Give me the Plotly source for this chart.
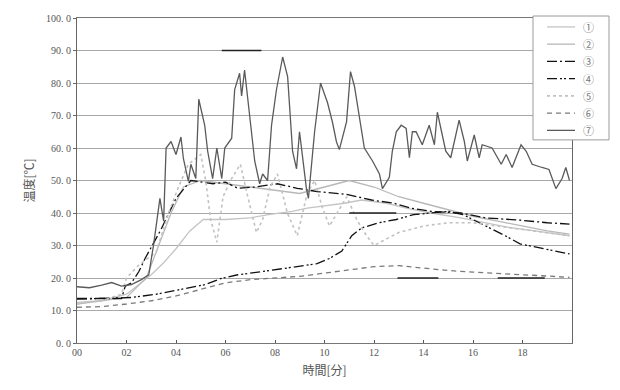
import plotly.graph_objects as go

# ---------------- data ----------------
x_ticks = [0, 2, 4, 6, 8, 10, 12, 14, 16, 18]
x_tick_labels = ["00", "02", "04", "06", "08", "10", "12", "14", "16", "18"]
y_ticks = [0, 10, 20, 30, 40, 50, 60, 70, 80, 90, 100]
y_tick_labels = ["0. 0", "10. 0", "20. 0", "30. 0", "40. 0", "50. 0", "60. 0", "70. 0", "80. 0", "90. 0", "100. 0"]
series_names = ["①", "②", "③", "④", "⑤", "⑥", "⑦"]

t1 = [0, 1, 2, 2.5, 3, 3.5, 4, 4.55, 5.1, 6, 7, 7.8, 8.7, 9.3, 10.8, 11.5, 12.5, 13.3, 14.3, 15.5, 16.5, 17.5, 18.5, 19.9]
v1 = [12.5, 13, 15, 18, 21, 24.7, 29, 34.4, 38, 38, 38.5, 39.6, 40.5, 41.5, 43, 44, 43, 41.5, 40, 38.5, 37, 35.5, 34.5, 33]

t2 = [0, 2, 2.8, 3.3, 3.8, 4.3, 5, 6, 7, 8, 9, 10, 11, 12, 13, 14, 15, 16, 17, 18, 19, 19.9]
v2 = [12, 14, 20, 30, 40, 48, 50, 49, 48, 47, 46, 48, 50, 48, 45, 43, 41, 39, 37.5, 36, 34.5, 33.5]

t3 = [0, 1.8, 1.95, 2.2, 2.5, 2.75, 3.4, 4.0, 4.6, 5.5, 6.0, 6.5, 7.2, 8.1, 8.9, 9.7, 10.9, 11.9, 12.8, 13.5, 14.3, 15.5, 16.5, 17.9, 19.0, 19.9]
v3 = [13.7, 13.7, 17.5, 18.5, 22, 26, 35, 44.5, 50, 49, 49.5, 47.6, 48, 49, 47.6, 46.6, 45.7, 44, 43, 41.5, 40.5, 40, 38.5, 37.8, 37, 36.6]

t4 = [0, 1, 2.2, 3.2, 4.2, 5.2, 5.8, 6.5, 7.5, 8.5, 9.7, 10.2, 10.7, 11.1, 11.5, 12.2, 12.9, 13.6, 14.3, 15.0, 15.6, 16.0, 16.9, 17.3, 17.9, 18.9, 19.9]
v4 = [13.5, 13.8, 14, 15, 16.5, 18, 19.8, 21, 22, 23, 24.4, 26, 28.3, 33, 35.4, 37, 38, 39.5, 40, 40.5, 39.5, 38, 34.5, 33, 30.5, 29, 27.4]

t5 = [0, 1, 1.8, 2.0, 2.5, 3.2, 3.7, 4.1, 4.5, 5.0, 5.2, 5.4, 5.65, 5.9, 6.2, 6.6, 6.9, 7.25, 7.5, 7.8, 8.1, 8.5, 8.9, 9.3, 9.6, 9.9, 10.2, 10.5, 10.9, 11.3, 11.7, 12.0, 12.5, 13, 14, 15, 16, 17, 18, 19, 19.9]
v5 = [12, 13, 15, 20, 24, 28, 40, 48, 55, 58, 50, 38, 31, 45, 50, 55, 45, 34, 38, 48, 52, 40, 33, 46, 50, 42, 36, 40, 45, 38, 33, 30, 32, 34, 36, 37, 37, 36, 35, 34, 33]

t6 = [0, 1, 2, 3, 4, 5, 6, 7, 8, 9, 10, 11, 12, 13, 14, 15, 16, 17, 18, 19, 19.9]
v6 = [11, 11.2, 12, 13, 14.5, 16.5, 18.5, 19.5, 20, 20.5, 21.5, 22.5, 23.5, 23.8, 23, 22.3, 21.8, 21.3, 21, 20.6, 20.2]

t7 = [0, 0.5, 1.0, 1.4, 1.8, 2.2, 2.6, 2.9, 3.1, 3.35, 3.5, 3.6, 3.8, 4.0, 4.2, 4.3, 4.5, 4.6, 4.8, 4.92,
      5.16, 5.28, 5.48, 5.65, 5.85, 5.97, 6.25, 6.37, 6.57, 6.65, 6.77, 6.98, 7.18, 7.38, 7.5, 7.7, 7.86,
      8.06, 8.31, 8.51, 8.71, 8.87, 8.99, 9.27, 9.35, 9.6, 9.84, 10.12, 10.32, 10.48, 10.6, 10.89, 11.05,
      11.21, 11.41, 11.61, 11.94, 12.22, 12.34, 12.62, 12.74, 12.9, 13.1, 13.3, 13.43, 13.55, 13.7, 13.95,
      14.23, 14.44, 14.56, 14.7, 14.9, 15.1, 15.44, 15.65, 15.77, 16.05, 16.25, 16.37, 16.77, 17.14, 17.34,
      17.58, 17.94, 18.15, 18.39, 18.79, 19.07, 19.35, 19.6, 19.75, 19.9]
v7 = [17.3, 17.0, 17.8, 18.6, 17.5, 18.0, 19.5, 21, 30.5, 44.5, 37.5, 60, 62, 58, 63.4, 56.7, 49.7, 55, 50.6, 75,
      67, 59, 50.6, 60, 50.6, 60, 63, 78, 83, 76, 84, 70, 56, 49, 52, 50, 67,
      78, 88, 82, 59, 53.6, 65, 47.5, 44.5, 65, 80, 74, 68, 62, 59.5, 68, 83.5,
      79, 70, 60, 56, 52, 47.5, 51, 59, 65, 67, 66, 57, 65, 65, 61,
      67, 61, 71, 66, 59, 57, 68.6, 62, 56, 64, 57, 61, 60, 55, 58,
      54, 61, 59, 55, 54, 53.4, 47.5, 50.6, 54, 50]

# darkened grid-line fragments visible on the scan: (start minute, end minute, level)
scan_marks = [(5.85, 7.45, 90), (11.0, 12.9, 40), (12.95, 14.6, 20), (17.0, 18.9, 20)]

# ---------------- figure ----------------
styles = [
    dict(color="#c4c4c4", width=1.3, dash="solid"),
    dict(color="#b8b8b8", width=1.3, dash="solid"),
    dict(color="#111111", width=1.3, dash="10px,3px,2px,3px"),
    dict(color="#111111", width=1.3, dash="10px,3px,2px,2px,2px,3px"),
    dict(color="#c2c2c2", width=1.6, dash="dot"),
    dict(color="#7a7a7a", width=1.3, dash="5px,4px"),
    dict(color="#5a5a5a", width=1.3, dash="solid"),
]
xs = [t1, t2, t3, t4, t5, t6, t7]
ys = [v1, v2, v3, v4, v5, v6, v7]

fig = go.Figure()
for name, x, y, st in zip(series_names, xs, ys, styles):
    fig.add_trace(go.Scatter(x=x, y=y, mode="lines", name=name, line=st, showlegend=False))

for x0, x1, lvl in scan_marks:
    fig.add_shape(type="line", xref="x", yref="y", x0=x0, x1=x1, y0=lvl, y1=lvl,
                  line=dict(color="#222222", width=1.6), layer="above")

# ---- compact legend box (drawn in paper space, like the original) ----
PLOT_L, PLOT_R, PLOT_T, PLOT_B = 77, 572, 15, 343
def px_x(p):
    return (p - PLOT_L) / (PLOT_R - PLOT_L)
def px_y(p):
    return (PLOT_B - p) / (PLOT_B - PLOT_T)

fig.add_shape(type="rect", xref="paper", yref="paper",
              x0=px_x(533), x1=px_x(609), y0=px_y(138), y1=px_y(13),
              line=dict(color="#9a9a9a", width=1), fillcolor="white", layer="above")
row0, row_step = 24, 17.4
for i, (name, st) in enumerate(zip(series_names, styles)):
    yy = px_y(row0 + i * row_step)
    fig.add_shape(type="line", xref="paper", yref="paper",
                  x0=px_x(547), x1=px_x(575), y0=yy, y1=yy,
                  line=st, layer="above")
    fig.add_annotation(x=px_x(588), y=yy, xref="paper", yref="paper", text=name,
                       showarrow=False, xanchor="center", yanchor="middle", borderpad=0,
                       font=dict(family="Noto Sans CJK JP", size=11, color="#777777"))

tick_font = dict(family="Liberation Serif", size=10, color="#555555")
fig.update_layout(
    width=620, height=390,
    margin=dict(l=77, r=48, t=15, b=47),
    paper_bgcolor="white", plot_bgcolor="white",
    showlegend=False,
    xaxis=dict(
        range=[0, 20], tickvals=x_ticks, ticktext=x_tick_labels,
        showgrid=False, zeroline=False,
        showline=True, linecolor="#777777", linewidth=1, mirror=True,
        ticks="inside", ticklen=3, tickcolor="#555555",
        tickfont=tick_font,
        title=dict(text="時間[分]", font=dict(family="Noto Sans CJK JP", size=12, color="#555555"), standoff=9),
    ),
    yaxis=dict(
        range=[0, 100], tickvals=y_ticks, ticktext=y_tick_labels,
        showgrid=True, gridcolor="#a8a8a8", gridwidth=1, zeroline=False,
        showline=True, linecolor="#666666", linewidth=1, mirror=True,
        ticks="outside", ticklen=3, tickcolor="#666666",
        tickfont=tick_font,
        title=dict(text="温度[℃]", font=dict(family="Noto Sans CJK JP", size=12, color="#555555"), standoff=8),
    ),
)

fig.write_html("out.html")
